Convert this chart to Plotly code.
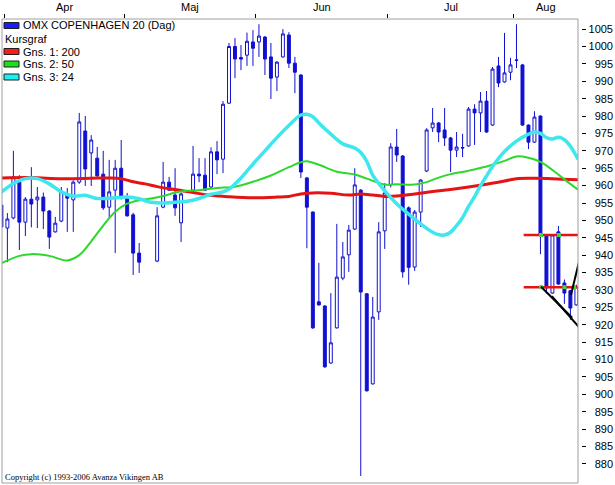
import plotly.graph_objects as go

# ---------------- data ----------------
slots = [0, 1, 2, 3, 4, 5, 6, 7, 8, 9, 10, 11, 12, 13, 14, 15, 16, 17, 18, 19, 20, 21, 22, 23,
         26, 27, 28, 29, 30,
         32, 33, 34, 35, 36, 37, 38, 39, 40, 41, 42, 43, 44, 45, 46, 47, 48, 49, 50,
         51, 52, 53, 54, 55, 56, 57, 58, 59, 60, 61, 62, 63, 64, 65, 66, 67, 68, 69, 70,
         71, 72, 73, 74, 75, 76, 77, 78, 79, 80, 81, 82, 83, 84, 85, 86, 87, 88, 89, 90,
         91, 92, 93, 94, 95, 96]
opens = [954.4, 947.8, 950.7, 961.0, 949.5, 956.1, 955.9, 956.7, 952.7, 946.7, 949.8, 957.3,
         955.9, 961.0, 975.7, 969.4, 967.9, 963.3, 953.8, 958.7, 965.0, 956.4, 951.6, 940.6,
         938.3, 953.8, 961.0, 957.3, 949.3,
         958.7, 963.3, 963.0, 959.6, 969.7, 967.6, 983.7, 1000.0, 996.8, 997.5, 1001.3, 1001.3,
         1002.7, 997.0, 991.2, 997.0, 1003.3, 995.2, 991.8,
         962.2, 952.4, 926.6, 925.4, 909.0, 919.1, 933.4, 940.1, 947.5, 958.7, 928.9, 903.0,
         923.7, 947.0, 960.2, 971.1, 968.5, 953.6, 936.6, 952.4,
         964.2, 976.6, 978.0, 976.0, 973.7, 970.2, 970.8, 971.4, 982.0, 980.9, 984.3, 977.4,
         994.4, 989.8, 992.6, 996.0, 994.7, 977.4, 972.5, 980.0,
         945.8, 929.1, 946.7, 932.0, 929.8, 925.7]
highs = [955.5, 952.1, 970.0, 963.0, 956.7, 965.3, 959.6, 958.0, 953.0, 951.0, 959.6, 959.3,
         961.5, 980.9, 980.0, 974.5, 971.1, 970.0, 967.4, 967.4, 973.1, 957.9, 952.2, 943.5,
         953.8, 966.8, 962.5, 965.0, 958.0,
         971.4, 967.9, 967.9, 971.0, 972.8, 984.3, 1001.0, 1002.4, 1000.4, 1004.0, 1004.7, 1006.4,
         1003.0, 1001.0, 995.8, 1005.0, 1004.1, 997.0, 992.0,
         962.5, 952.6, 937.8, 925.6, 929.1, 949.0, 943.8, 948.7, 965.0, 959.0, 929.1, 928.0,
         949.5, 960.7, 972.2, 976.3, 968.8, 954.0, 953.0, 961.8,
         976.5, 982.3, 978.3, 982.3, 974.0, 975.4, 974.9, 982.6, 983.4, 986.9, 987.2, 994.1,
         997.0, 1003.9, 996.7, 1006.4, 995.0, 977.6, 981.4, 980.2,
         946.0, 946.0, 948.4, 933.0, 930.0, 931.5]
lows = [947.5, 938.0, 950.3, 941.5, 945.5, 948.0, 947.8, 947.5, 941.8, 946.5, 949.5, 946.7,
        946.7, 960.5, 959.9, 959.9, 962.0, 953.0, 950.7, 940.6, 956.0, 951.1, 934.3, 934.9,
        938.0, 953.5, 958.5, 951.3, 943.8,
        958.5, 961.0, 958.5, 959.3, 963.3, 963.6, 983.5, 990.9, 993.2, 994.4, 994.4, 997.0,
        991.8, 984.9, 987.2, 996.8, 993.8, 986.6, 962.2,
        942.0, 918.8, 925.5, 907.6, 908.8, 918.9, 932.8, 935.2, 947.3, 876.5, 900.8, 902.8,
        921.4, 941.8, 959.5, 966.8, 933.5, 931.5, 935.5, 948.1,
        963.9, 975.4, 972.5, 971.4, 963.9, 968.2, 968.2, 971.2, 971.7, 975.4, 975.2, 977.2,
        988.3, 989.6, 990.3, 993.8, 977.2, 970.5, 972.3, 940.3,
        929.0, 928.9, 931.5, 926.0, 921.4, 925.5]
closes = [948.1, 950.4, 962.5, 949.5, 956.1, 954.7, 956.7, 952.7, 945.2, 949.2, 958.4, 956.4,
          961.0, 978.3, 964.8, 973.1, 962.8, 953.6, 958.2, 965.0, 956.4, 951.3, 940.6, 938.0,
          951.3, 961.0, 958.7, 953.6, 957.6,
          963.3, 962.8, 958.7, 969.7, 967.4, 983.4, 1000.0, 996.4, 996.4, 1001.5, 999.5, 1003.0,
          996.4, 990.9, 995.5, 1003.6, 995.2, 992.6, 963.9,
          953.8, 919.1, 925.7, 907.9, 914.8, 933.7, 939.5, 947.2, 960.2, 929.4, 901.0, 922.2,
          946.7, 957.9, 971.1, 968.8, 935.2, 936.5, 952.4, 961.6,
          976.0, 978.0, 975.4, 973.7, 970.2, 971.1, 970.9, 982.0, 980.9, 984.3, 975.4, 993.5,
          989.5, 992.4, 994.7, 996.1, 977.4, 972.5, 979.7, 945.8,
          930.6, 945.8, 931.7, 929.1, 924.8, 930.9]

# moving averages (slot, value)
ma200_x = [0, 5, 10, 15, 18, 20, 22, 24, 26, 28, 30, 32, 35, 38, 42, 46, 48, 50, 52, 55,
           58, 60, 62, 64, 66, 69, 72, 75, 78, 81, 84, 86, 89, 92, 96.3]
ma200_y = [962.2, 962.3, 962.0, 962.1, 962.2, 962.0, 961.1, 960.5, 959.7, 959.1, 958.6,
           958.0, 957.2, 956.8, 956.5, 956.7, 956.9, 957.6, 957.9, 957.8, 957.3, 957.6, 957.3,
           956.9, 957.0, 957.6, 958.3, 958.9, 959.6, 960.4, 961.3, 962.0, 962.1, 962.0, 961.7]
ma50_x = [0, 3, 5, 8, 11, 13, 15, 17, 19, 21, 23, 25, 27, 29, 31, 33, 36, 39, 42, 45, 48,
          50, 51, 53, 56, 59, 61, 63, 64, 66, 69, 71, 73, 75, 78, 81, 84, 86, 88, 90, 92, 94, 96.3]
ma50_y = [937.7, 939.8, 940.3, 939.8, 938.5, 940.0, 944.0, 948.5, 952.5, 954.8, 955.8,
          956.3, 957.0, 958.0, 958.5, 958.7, 959.3, 959.7, 961.1, 962.9, 965.3, 966.7, 967.0,
          966.0, 964.0, 963.2, 962.0, 960.8, 960.3, 960.4, 960.3, 961.0, 962.3, 963.3, 964.3,
          965.5, 967.1, 968.4, 968.0, 966.8, 964.5, 961.8, 958.8]
ma24_x = [0, 2, 4, 6, 8, 10, 12, 14, 16, 19, 21, 23, 25, 27, 29, 31, 33, 35, 37, 38, 40, 42,
          44, 46, 48, 50, 51, 52, 53, 55, 57, 59, 60, 61, 62, 64, 66, 68, 70, 72, 73, 74, 75,
          76, 77, 78, 79, 80, 81, 82, 83, 84, 86, 88, 89, 90, 91, 92, 93, 94, 95, 96.3]
ma24_y = [958.1, 960.6, 962.0, 962.0, 960.5, 958.2, 957.0, 957.2, 956.3, 956.5, 956.7,
          956.2, 955.2, 955.0, 955.2, 955.5, 956.3, 957.5, 958.2, 959.0, 962.2, 966.2, 970.0,
          973.8, 977.3, 980.3, 980.5, 979.8, 978.0, 974.8, 972.0, 970.8, 969.5, 967.0, 963.0,
          958.5, 954.8, 951.8, 949.0, 946.6, 945.9, 945.8, 946.6, 948.5, 950.8, 954.0, 956.8,
          960.0, 962.8, 965.5, 967.8, 969.8, 972.8, 974.8, 975.4, 975.0, 973.8, 973.4, 973.9,
          973.2, 971.3, 967.5]

# drawn support lines and trend lines (slot, value)
support_levels = [945.8, 930.8]
support_start = 87.2
support_marks_x = [[90.1, 93.1], [90.1, 94.0, 95.6]]
trend_lines = [((90.1, 930.9), (95.3, 922.0)),
               ((91.9, 928.2), (96.4, 919.4)),
               ((95.1, 928.6), (96.4, 937.8))]

month_names = ["Apr", "Maj", "Jun", "Jul", "Aug"]
month_bounds = [0.5, 20.5, 42.5, 64.5, 85.5]
y_ticks = list(range(880, 1006, 5))

legend_items = [("OMX COPENHAGEN 20 (Dag)", "#1a1aff"), ("Kursgraf", None),
                ("Gns. 1: 200", "#ff1a1a"), ("Gns. 2: 50", "#1ae01a"), ("Gns. 3: 24", "#1af0f0")]

# ---------------- figure ----------------
W, H = 615, 485
ML, MR, MT, MB = 2, 2, 19, 2
PLOT_R = 578
X_RANGE = [0.1, 96.27]
Y_RANGE = [874.5, 1007.9]
BLUE = "#1010d0"
FONT = "Liberation Sans"


def px(xp):
    return (xp - ML) / (W - ML - MR)


def py(yp):
    return (H - MB - yp) / (H - MT - MB)


fig = go.Figure()

fig.add_trace(go.Scatter(x=ma200_x, y=ma200_y, mode="lines", line=dict(color="#e41414", width=3, shape="spline"),
                         hoverinfo="skip", showlegend=False))
fig.add_trace(go.Scatter(x=ma50_x, y=ma50_y, mode="lines", line=dict(color="#2cd82c", width=2, shape="spline"),
                         hoverinfo="skip", showlegend=False))
fig.add_trace(go.Scatter(x=ma24_x, y=ma24_y, mode="lines", line=dict(color="#3ee6ee", width=3.5, shape="spline"),
                         hoverinfo="skip", showlegend=False))

fig.add_trace(go.Candlestick(
    x=slots, open=opens, high=highs, low=lows, close=closes,
    increasing=dict(line=dict(color=BLUE, width=1), fillcolor="white"),
    decreasing=dict(line=dict(color=BLUE, width=1), fillcolor=BLUE),
    whiskerwidth=0, showlegend=False, hoverinfo="skip"))

# support levels
for lvl, marks in zip(support_levels, support_marks_x):
    fig.add_trace(go.Scatter(x=[support_start, X_RANGE[1]], y=[lvl, lvl], mode="lines",
                             line=dict(color="#e41414", width=2.5), hoverinfo="skip", showlegend=False))
    fig.add_trace(go.Scatter(x=marks, y=[lvl] * len(marks), mode="markers",
                             marker=dict(symbol="square", size=4, color="#3cd83c"),
                             hoverinfo="skip", showlegend=False))
# trend lines
for (a, b) in trend_lines:
    fig.add_trace(go.Scatter(x=[a[0], b[0]], y=[a[1], b[1]], mode="lines",
                             line=dict(color="black", width=2), hoverinfo="skip", showlegend=False))

# invisible trace for the label axis
fig.add_trace(go.Scatter(x=[10], y=[950], yaxis="y2", mode="markers", marker=dict(opacity=0),
                         hoverinfo="skip", showlegend=False))

# month labels
annotations = []
mids = [(month_bounds[i] + (month_bounds[i + 1] if i + 1 < len(month_bounds) else X_RANGE[1])) / 2
        for i in range(len(month_bounds))]
for name, m in zip(month_names, mids):
    annotations.append(dict(x=m, y=py(7), xref="x", yref="paper", text=name, showarrow=False,
                            font=dict(family=FONT, size=11, color="black"), xanchor="center", yanchor="middle"))

# legend
shapes = []
rows_y = [25.5, 38.5, 51.5, 64, 77]
for (label, col), yy in zip(legend_items, rows_y):
    if col:
        shapes.append(dict(type="rect", xref="paper", yref="paper", x0=px(4), x1=px(19),
                           y0=py(yy - 3), y1=py(yy + 3), fillcolor=col, line=dict(color="#202020", width=1)))
        tx = 21
    else:
        tx = 3
    annotations.append(dict(x=px(tx), y=py(yy), xref="paper", yref="paper", text=label, showarrow=False,
                            font=dict(family=FONT, size=11, color="black"), xanchor="left", yanchor="middle"))

annotations.append(dict(x=px(3), y=py(477), xref="paper", yref="paper",
                        text="Copyright (c) 1993-2006 Avanza Vikingen AB", showarrow=False,
                        font=dict(family="Liberation Serif", size=8.5, color="black"),
                        xanchor="left", yanchor="middle"))

# frame
shapes.append(dict(type="rect", xref="x domain", yref="y domain", x0=0, x1=1, y0=0, y1=1,
                   line=dict(color="#a0a0a0", width=1), layer="above"))

dom_r = (PLOT_R - ML) / (W - ML - MR)
fig.update_layout(
    width=W, height=H, margin=dict(l=ML, r=MR, t=MT, b=MB),
    paper_bgcolor="white", plot_bgcolor="white", showlegend=False,
    xaxis=dict(domain=[0, dom_r], range=X_RANGE, side="top", tickvals=month_bounds,
               ticks="outside", ticklen=4, tickcolor="black", showticklabels=False,
               showgrid=False, zeroline=False, showline=False, rangeslider=dict(visible=False),
               fixedrange=True),
    yaxis=dict(range=Y_RANGE, anchor="free", side="right", position=px(581),
               tickvals=y_ticks, ticks="outside", ticklen=4, tickcolor="black", showticklabels=False,
               showgrid=False, zeroline=False, showline=False),
    yaxis2=dict(range=Y_RANGE, overlaying="y", anchor="free", side="left", position=1.0,
                tickvals=y_ticks, ticks="", showline=False, showgrid=False, zeroline=False,
                tickfont=dict(family=FONT, size=11, color="black")),
    annotations=annotations, shapes=shapes,
)

fig.write_html("out.html")
